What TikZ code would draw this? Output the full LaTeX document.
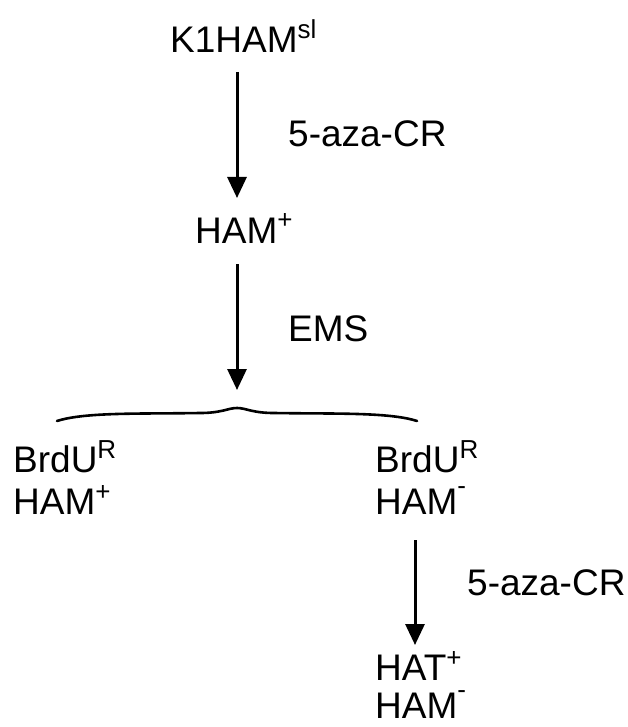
\documentclass[tikz,border=0pt]{standalone}
\usepackage{fontspec}
\setmainfont{Liberation Sans}
\usetikzlibrary{arrows.meta}
% raised small labels after a name
\newcommand\supx[2][14pt]{\raisebox{#1}{\fontsize{26}{26}\selectfont #2}}
\newcommand\supminus{\supx[20pt]{-}}
\tikzset{
  lbl/.style={inner sep=0pt, anchor=base west, font=\fontsize{37}{42}\selectfont},
  flow/.style={line width=3pt, -{Triangle[length=21pt,width=19pt]}, shorten >=0pt},
  bracepath/.style={line width=2.6pt, line cap=round, line join=round}
}
\begin{document}
\begin{tikzpicture}[x=1pt,y=1pt]
\useasboundingbox (0,0) rectangle (627,-727);

% cell lines
\node[lbl] (k1)   at (170,-53)  {K1HAM\supx{sl}};
\node[lbl] (ham)  at (195,-243) {HAM\supx{+}};
\node[lbl] (leftA)  at (13,-472)  {BrdU\supx{R}};
\node[lbl] (leftB)  at (13,-514)  {HAM\supx{+}};
\node[lbl] (rightA) at (375,-472) {BrdU\supx{R}};
\node[lbl] (rightB) at (375,-514) {HAM\supminus};
\node[lbl] (hatA)   at (375,-680) {HAT\supx{+}};
\node[lbl] (hatB)   at (375,-718) {HAM\supminus};

% treatments
\node[lbl] (aza1) at (288,-147) {5-aza-CR};
\node[lbl] (ems)  at (288,-341) {EMS};
\node[lbl] (aza2) at (467,-595) {5-aza-CR};

% arrow anchors
\coordinate (a1s) at (237,-72);
\coordinate (a1e) at (237,-198);
\coordinate (a2s) at (237,-264);
\coordinate (a2e) at (237,-390);
\coordinate (a3s) at (415,-540);
\coordinate (a3e) at (415,-645);

\draw[flow] (a1s) -- (a1e);
\draw[flow] (a2s) -- (a2e);
\draw[flow] (a3s) -- (a3e);

% brace splitting the mutants
\coordinate (bl) at (57,-421);
\coordinate (bp) at (237,-408);
\coordinate (br) at (417,-421);
\draw[bracepath] (bl) .. controls (85,-412) and (140,-414) .. (200,-413)
  .. controls (222,-413) and (228,-408) .. (bp)
  .. controls (246,-408) and (252,-413) .. (274,-413)
  .. controls (334,-414) and (389,-412) .. (br);
\end{tikzpicture}
\end{document}
